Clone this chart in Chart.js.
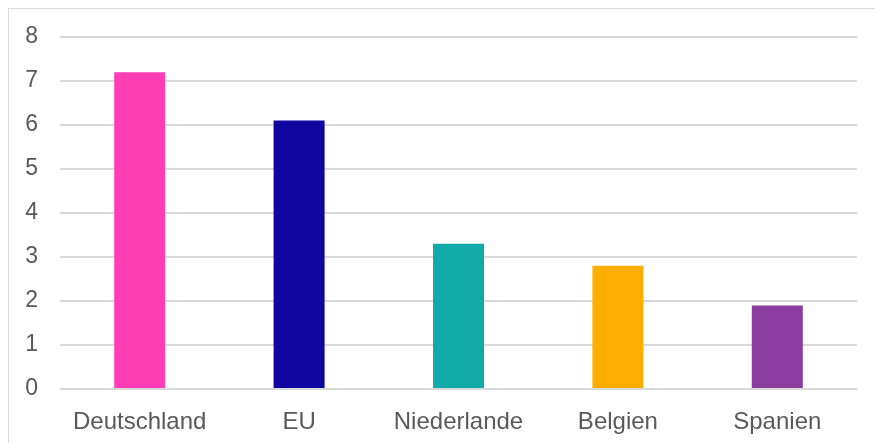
<!DOCTYPE html>
<html>
<head>
<meta charset="utf-8">
<script src="https://cdn.jsdelivr.net/npm/chart.js@4"></script>
<style>
html, body { margin: 0; padding: 0; background: #fff; }
#wrap { position: relative; width: 875px; height: 443px; overflow: hidden; }
#frame { position: absolute; left: 8px; top: 8px; width: 900px; height: 500px; border: 1px solid #d9d9d9; }
#chart { position: absolute; left: 0; top: 0; }
</style>
</head>
<body>
<div id="wrap">
<div id="frame"></div>
<canvas id="chart" width="875" height="443"></canvas>
</div>
<script>
// Werte je Land
const categories = ["Deutschland", "EU", "Niederlande", "Belgien", "Spanien"];
const values = [7.2, 6.1, 3.3, 2.8, 1.9];
const barColors = ["#ff3db5", "#10069f", "#12abaa", "#ffad00", "#8a3d9e"];
const yMin = 0;
const yMax = 8;

new Chart(
document.getElementById("chart"),
{
type: "bar",
data: {
labels: categories,
datasets: [{
data: values,
backgroundColor: barColors,
categoryPercentage: 1,
barPercentage: 0.32
}]
},
options: {
responsive: false,
animation: false,
layout: { padding: { top: 37, right: 18, left: 0, bottom: 0 } },
plugins: { legend: { display: false }, tooltip: { enabled: false } },
scales: {
x: {
grid: { display: false },
border: { display: false },
ticks: { color: "#595959", font: { family: "Liberation Sans", size: 24 }, padding: 11 },
afterFit: s => { s.height = 54; }
},
y: {
min: yMin,
max: yMax,
border: { display: false },
grid: { color: "#d9d9d9", lineWidth: 2, drawTicks: false },
ticks: { stepSize: 1, color: "#595959", font: { family: "Liberation Sans", size: 23 }, padding: 22 },
afterFit: s => { s.width = 60; }
}
}
}
}
);
</script>
</body>
</html>
